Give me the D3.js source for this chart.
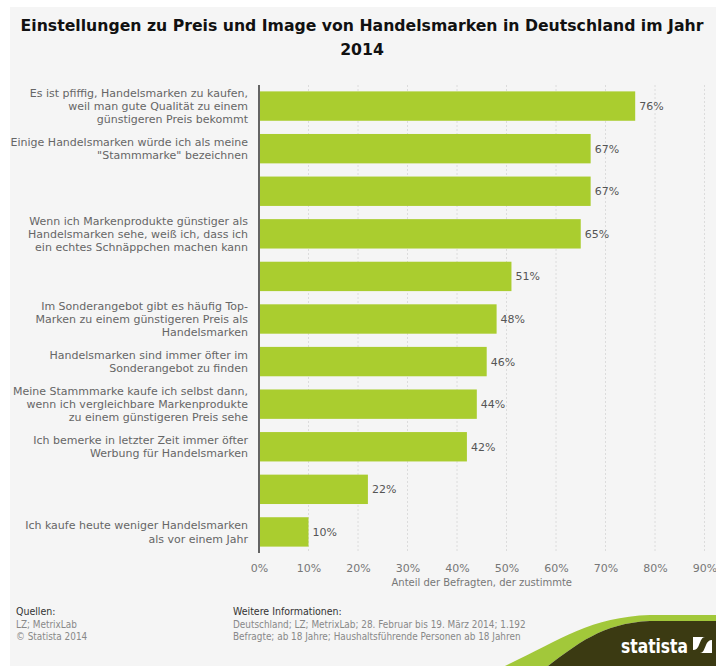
<!DOCTYPE html>
<html>
<head>
<meta charset="utf-8">
<script src="https://cdn.jsdelivr.net/npm/d3@7"></script>
<style>
  body { margin: 0; background: #fff; }
  svg { display: block; }
</style>
</head>
<body>
<div id="chart"></div>
<script>
// statements (multi-line labels), empty ones had no label in the source
const categories = [
  ['Es ist pfiffig, Handelsmarken zu kaufen,', 'weil man gute Qualität zu einem', 'günstigeren Preis bekommt'],
  ['Einige Handelsmarken würde ich als meine', '"Stammmarke" bezeichnen'],
  [],
  ['Wenn ich Markenprodukte günstiger als', 'Handelsmarken sehe, weiß ich, dass ich', 'ein echtes Schnäppchen machen kann'],
  [],
  ['Im Sonderangebot gibt es häufig Top-', 'Marken zu einem günstigeren Preis als', 'Handelsmarken'],
  ['Handelsmarken sind immer öfter im', 'Sonderangebot zu finden'],
  ['Meine Stammmarke kaufe ich selbst dann,', 'wenn ich vergleichbare Markenprodukte', 'zu einem günstigeren Preis sehe'],
  ['Ich bemerke in letzter Zeit immer öfter', 'Werbung für Handelsmarken'],
  [],
  ['Ich kaufe heute weniger Handelsmarken', 'als vor einem Jahr']
];
const values = [76, 67, 67, 65, 51, 48, 46, 44, 42, 22, 10];
const xTicks = [0, 10, 20, 30, 40, 50, 60, 70, 80, 90];

const titleLines = ['Einstellungen zu Preis und Image von Handelsmarken in Deutschland im Jahr', '2014'];
const axisTitle = 'Anteil der Befragten, der zustimmte';
const sourceLines = ['LZ; MetrixLab', '© Statista 2014'];
const infoLines = ['Deutschland; LZ; MetrixLab; 28. Februar bis 19. März 2014; 1.192',
  'Befragte; ab 18 Jahre; Haushaltsführende Personen ab 18 Jahren'];

const W = 716, H = 666;
const font = 'DejaVu Sans, Verdana, sans-serif';
const svg = d3.select('#chart').append('svg').attr('width', W).attr('height', H);

// gray panel
svg.append('rect').attr('x', 10).attr('y', 7).attr('width', W - 10).attr('height', H - 7).attr('fill', '#f5f5f5');

// title
svg.append('g').selectAll('text').data(titleLines).join('text')
  .attr('x', 362).attr('y', (d, i) => 31 + i * 24)
  .attr('text-anchor', 'middle')
  .style('font', `bold 15.7px ${font}`).attr('fill', '#111')
  .text(d => d);

// scales
const x = d3.scaleLinear().domain([0, 90]).range([259, 704.5]);
const y = d3.scaleBand().domain(d3.range(values.length)).range([85, 553])
  .paddingInner(0.31).paddingOuter(0.15);

// grid
svg.append('g').selectAll('line').data(xTicks.slice(1)).join('line')
  .attr('x1', d => x(d)).attr('x2', d => x(d))
  .attr('y1', 85).attr('y2', 553)
  .attr('stroke', '#dcdcdc').attr('stroke-dasharray', '2,2');

// bars
svg.append('g').selectAll('rect').data(values).join('rect')
  .attr('x', x(0) + 1)
  .attr('y', (d, i) => y(i))
  .attr('width', d => x(d) - x(0) - 1)
  .attr('height', y.bandwidth())
  .attr('fill', '#aacd2f');

// value labels
svg.append('g').selectAll('text').data(values).join('text')
  .attr('x', d => x(d) + 4)
  .attr('y', (d, i) => y(i) + y.bandwidth() / 2 + 4)
  .style('font', `11px ${font}`).attr('fill', '#555')
  .text(d => d + '%');

// category labels
const lineH = 13.3;
const cat = svg.append('g').selectAll('text').data(categories).join('text')
  .attr('text-anchor', 'end')
  .style('font', `11px ${font}`).attr('fill', '#666');
cat.each(function (lines, i) {
  const cy = y(i) + y.bandwidth() / 2;
  const y0 = cy - (lines.length - 1) * lineH / 2 + 4;
  d3.select(this).selectAll('tspan').data(lines).join('tspan')
    .attr('x', 248).attr('y', (d, j) => y0 + j * lineH)
    .text(d => d);
});

// y axis line
svg.append('line').attr('x1', 259).attr('x2', 259).attr('y1', 85).attr('y2', 553)
  .attr('stroke', '#333').attr('stroke-width', 1.5);

// x axis tick labels
const xAxis = svg.append('g').attr('transform', 'translate(0,553)')
  .call(d3.axisBottom(x).tickValues(xTicks).tickFormat(d => d + '%').tickSize(0).tickPadding(11));
xAxis.select('.domain').remove();
xAxis.selectAll('text').style('font', `11px ${font}`).attr('fill', '#777');

svg.append('text').attr('x', (x(0) + x(90)) / 2).attr('y', 586)
  .attr('text-anchor', 'middle')
  .style('font', `10px ${font}`).attr('fill', '#777')
  .text(axisTitle);

// footer
const small = 'DejaVu Sans Condensed, DejaVu Sans, sans-serif';
svg.append('text').attr('x', 16).attr('y', 615).style('font', `10.5px ${small}`).attr('fill', '#333').text('Quellen:');
svg.append('g').selectAll('text').data(sourceLines).join('text')
  .attr('x', 16).attr('y', (d, i) => 628 + i * 12)
  .style('font', `9.9px ${small}`).attr('fill', '#888').text(d => d);
svg.append('text').attr('x', 233).attr('y', 615).style('font', `10.5px ${small}`).attr('fill', '#333').text('Weitere Informationen:');
svg.append('g').selectAll('text').data(infoLines).join('text')
  .attr('x', 233).attr('y', (d, i) => 628 + i * 12)
  .style('font', `9.9px ${small}`).attr('fill', '#888').text(d => d);

// statista logo
const logo = svg.append('g');
logo.append('path')
  .attr('d', 'M505,666 C560,640 590,617 650,615 L716,615 L716,621 L650,621 C602,623 576,645 548,666 Z')
  .attr('fill', '#a2c83a');
logo.append('path')
  .attr('d', 'M548,666 C576,645 602,623 650,621 L716,621 L716,666 Z')
  .attr('fill', '#3b3a12');
logo.append('text').attr('x', 621).attr('y', 653)
  .attr('textLength', 67).attr('lengthAdjust', 'spacingAndGlyphs')
  .style('font', `bold 20px ${small}`).attr('fill', '#fff').text('statista');
logo.append('rect').attr('x', 693).attr('y', 637).attr('width', 19).attr('height', 16).attr('fill', '#fff');
logo.append('path')
  .attr('d', 'M693,653 L700,653 C703,653 704,650 706,645 C707,642 709,640 712,640 L712,637 L705,637 C702,637 701,640 699,645 C698,648 696,650 693,650 Z')
  .attr('fill', '#3b3a12');
</script>
</body>
</html>
